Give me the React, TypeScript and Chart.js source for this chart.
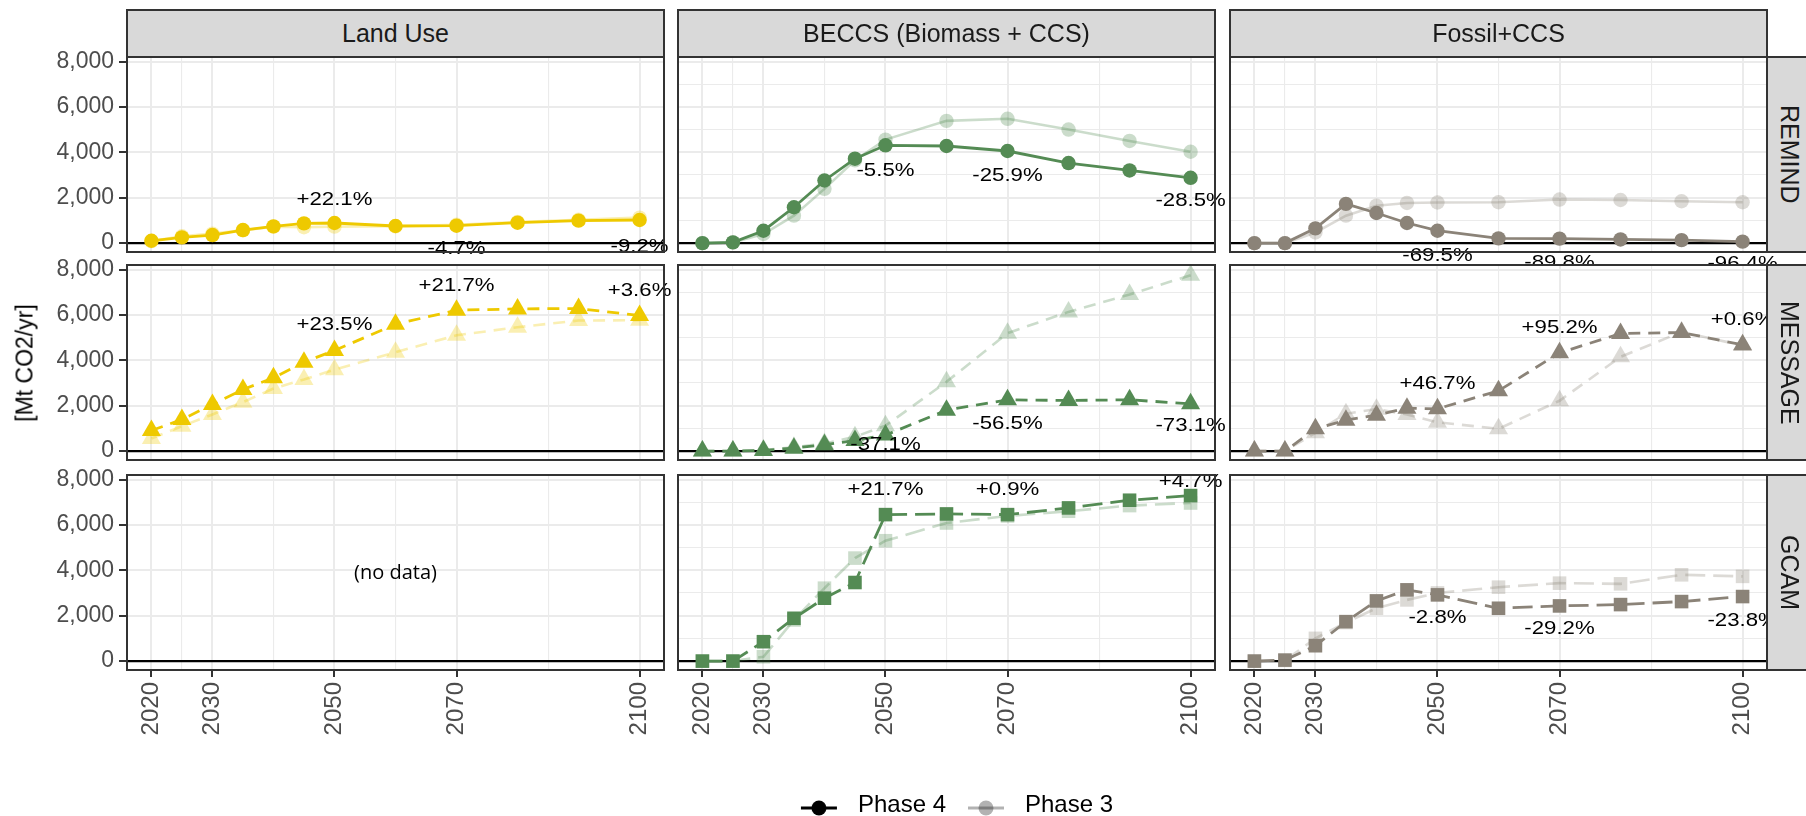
import React, { useEffect, useRef } from 'react';
import { Chart, registerables } from 'chart.js';

Chart.register(...registerables);

// ---------------- data ----------------
const YEARS = [2020, 2025, 2030, 2035, 2040, 2045, 2050, 2060, 2070, 2080, 2090, 2100];
const CATEGORIES = ['Land Use', 'BECCS (Biomass + CCS)', 'Fossil+CCS'];
const MODELS = ['REMIND', 'MESSAGE', 'GCAM'];
const PHASES = ['Phase 4', 'Phase 3'];
const X_MAJOR_TICKS = [2020, 2030, 2050, 2070, 2100];
const X_MINOR_TICKS = [2025, 2040, 2060, 2085];
const Y_MAJOR_TICKS = [0, 2000, 4000, 6000, 8000];
const Y_MINOR_TICKS = [1000, 3000, 5000, 7000];

// REMIND
const LAND_REMIND_P4 = [103, 251, 354, 576, 738, 871, 886, 753, 768, 900, 989, 1018];
const LAND_REMIND_P3 = [90, 300, 420, 560, 720, 700, 726, 740, 806, 930, 1030, 1121];
const BECCS_REMIND_P4 = [0, 30, 546, 1579, 2760, 3720, 4310, 4280, 4059, 3528, 3203, 2878];
const BECCS_REMIND_P3 = [0, 30, 400, 1210, 2391, 3646, 4561, 5387, 5478, 5004, 4502, 4025];
const FOSSIL_REMIND_P4 = [0, 0, 650, 1727, 1328, 886, 546, 210, 196, 162, 133, 65];
const FOSSIL_REMIND_P3 = [0, 0, 470, 1210, 1650, 1770, 1790, 1800, 1920, 1900, 1845, 1800];

// MESSAGE
const LAND_MESSAGE_P4 = [906, 1395, 2055, 2716, 3230, 3920, 4433, 5593, 6210, 6268, 6283, 5975];
const LAND_MESSAGE_P3 = [558, 1100, 1615, 2158, 2760, 3156, 3590, 4360, 5103, 5461, 5755, 5767];
const BECCS_MESSAGE_P4 = [0, 0, 30, 130, 279, 470, 705, 1806, 2261, 2231, 2261, 2085];
const BECCS_MESSAGE_P3 = [0, 0, 50, 170, 338, 631, 1121, 3053, 5198, 6136, 6900, 7751];
const FOSSIL_MESSAGE_P4 = [0, 0, 983, 1365, 1585, 1894, 1864, 2657, 4331, 5182, 5226, 4683];
const FOSSIL_MESSAGE_P3 = [0, 0, 807, 1650, 1850, 1615, 1271, 983, 2219, 4154, 5250, 4655];

// GCAM
const BECCS_GCAM_P4 = [0, 0, 855, 1887, 2771, 3464, 6456, 6486, 6456, 6751, 7090, 7296];
const BECCS_GCAM_P3 = [0, 0, 192, 1813, 3213, 4540, 5305, 6088, 6398, 6604, 6854, 6968];
const FOSSIL_GCAM_P4 = [0, 44, 678, 1739, 2653, 3140, 2919, 2329, 2432, 2491, 2624, 2845];
const FOSSIL_GCAM_P3 = [0, 30, 1002, 1700, 2329, 2697, 3003, 3258, 3435, 3405, 3803, 3734];

// change labels (Phase 4 vs Phase 3) and their label heights
const NOTE_YEARS = [2050, 2070, 2100];
const LAND_REMIND_NOTES = ['+22.1%', '-4.7%', '-9.2%'];
const LAND_REMIND_NOTE_Y = [1919, -266, -148];
const BECCS_REMIND_NOTES = ['-5.5%', '-25.9%', '-28.5%'];
const BECCS_REMIND_NOTE_Y = [3203, 2982, 1860];
const FOSSIL_REMIND_NOTES = ['-69.5%', '-89.8%', '-96.4%'];
const FOSSIL_REMIND_NOTE_Y = [-561, -856, -900];
const LAND_MESSAGE_NOTES = ['+23.5%', '+21.7%', '+3.6%'];
const LAND_MESSAGE_NOTE_Y = [5549, 7267, 7076];
const BECCS_MESSAGE_NOTES = ['-37.1%', '-56.5%', '-73.1%'];
const BECCS_MESSAGE_NOTE_Y = [279, 1218, 1101];
const FOSSIL_MESSAGE_NOTES = ['+46.7%', '+95.2%', '+0.6%'];
const FOSSIL_MESSAGE_NOTE_Y = [2980, 5432, 5799];
const BECCS_GCAM_NOTES = ['+21.7%', '+0.9%', '+4.7%'];
const BECCS_GCAM_NOTE_Y = [7562, 7562, 7886];
const FOSSIL_GCAM_NOTES = ['-2.8%', '-29.2%', '-23.8%'];
const FOSSIL_GCAM_NOTE_Y = [1887, 1400, 1784];
const NO_DATA_TEXT = '(no data)';
const NO_DATA_X = 2060;
const NO_DATA_Y = 3850;

const PHASE4: (number[] | null)[][] = [
  [LAND_REMIND_P4, BECCS_REMIND_P4, FOSSIL_REMIND_P4],
  [LAND_MESSAGE_P4, BECCS_MESSAGE_P4, FOSSIL_MESSAGE_P4],
  [null, BECCS_GCAM_P4, FOSSIL_GCAM_P4],
];
const PHASE3: (number[] | null)[][] = [
  [LAND_REMIND_P3, BECCS_REMIND_P3, FOSSIL_REMIND_P3],
  [LAND_MESSAGE_P3, BECCS_MESSAGE_P3, FOSSIL_MESSAGE_P3],
  [null, BECCS_GCAM_P3, FOSSIL_GCAM_P3],
];
const NOTES: ([string[], number[]] | null)[][] = [
  [[LAND_REMIND_NOTES, LAND_REMIND_NOTE_Y], [BECCS_REMIND_NOTES, BECCS_REMIND_NOTE_Y], [FOSSIL_REMIND_NOTES, FOSSIL_REMIND_NOTE_Y]],
  [[LAND_MESSAGE_NOTES, LAND_MESSAGE_NOTE_Y], [BECCS_MESSAGE_NOTES, BECCS_MESSAGE_NOTE_Y], [FOSSIL_MESSAGE_NOTES, FOSSIL_MESSAGE_NOTE_Y]],
  [null, [BECCS_GCAM_NOTES, BECCS_GCAM_NOTE_Y], [FOSSIL_GCAM_NOTES, FOSSIL_GCAM_NOTE_Y]],
];

// ---------------- styles ----------------
const FONT = "'Liberation Sans', Arial, Helvetica, sans-serif";
const CAT_COLORS = ['#EEC900', '#548B54', '#8B8378'];
const MODEL_POINT = ['circle', 'triangle', 'rect'];
const MODEL_RADIUS = [7.2, 11, 9.6];
const MODEL_DASH = [[], [12, 8], [20, 8]];
const PHASE_ALPHA = [1, 0.3];
const PHASE_WIDTH = [2.8, 2.6];

const COL_LEFT = [127, 678, 1230];
const ROW_TOP = [57, 265, 475];
const PANEL_W = 537;
const PANEL_H = 195;
const X_MIN = 2016;
const X_MAX = 2104;
const Y_MIN = -392;
const Y_MAX = 8202;

function rgba(hex: string, a: number) {
  const n = parseInt(hex.slice(1), 16);
  return `rgba(${(n >> 16) & 255},${(n >> 8) & 255},${n & 255},${a})`;
}

function makeSeries(values: number[], row: number, col: number, phase: number) {
  const c = rgba(CAT_COLORS[col], PHASE_ALPHA[phase]);
  return {
    label: PHASES[phase],
    data: YEARS.map((yr, i) => ({ x: yr, y: values[i] })),
    borderColor: c,
    backgroundColor: c,
    pointBackgroundColor: c,
    pointBorderWidth: 0,
    pointRadius: MODEL_RADIUS[row],
    pointStyle: MODEL_POINT[row],
    borderWidth: PHASE_WIDTH[phase],
    borderDash: MODEL_DASH[row],
    tension: 0,
    fill: false,
  };
}

const panelPlugin = {
  id: 'panel',
  beforeDraw(chart: any) {
    const { ctx, chartArea: a } = chart;
    ctx.save();
    ctx.fillStyle = '#FFFFFF';
    ctx.fillRect(a.left, a.top, a.right - a.left, a.bottom - a.top);
    ctx.restore();
  },
  beforeDatasetsDraw(chart: any) {
    const { ctx, chartArea: a, scales } = chart;
    const y0 = scales.y.getPixelForValue(0);
    ctx.save();
    ctx.strokeStyle = '#000000';
    ctx.lineWidth = 2.2;
    ctx.beginPath();
    ctx.moveTo(a.left, y0);
    ctx.lineTo(a.right, y0);
    ctx.stroke();
    ctx.restore();
  },
  afterDatasetsDraw(chart: any, _args: any, opts: any) {
    const { ctx, chartArea: a, scales } = chart;
    ctx.save();
    ctx.textAlign = 'center';
    ctx.textBaseline = 'middle';
    ctx.fillStyle = '#000000';
    (opts.notes || []).forEach((n: any) => {
      ctx.save();
      ctx.font = n.font;
      ctx.translate(scales.x.getPixelForValue(n.x), scales.y.getPixelForValue(n.y));
      ctx.scale(n.sx, 1);
      ctx.fillText(n.text, 0, 0);
      ctx.restore();
    });
    ctx.strokeStyle = '#333333';
    ctx.lineWidth = 2;
    ctx.strokeRect(a.left, a.top, a.right - a.left, a.bottom - a.top);
    ctx.restore();
  },
};

function Panel({ row, col }: { row: number; col: number }) {
  const ref = useRef<HTMLCanvasElement>(null);
  const mL = col === 0 ? COL_LEFT[0] : 60;
  const mR = 60;
  const mT = 40;
  const mB = row === 2 ? 110 : 40;
  const w = PANEL_W + mL + mR;
  const h = PANEL_H + mT + mB;

  useEffect(() => {
    const canvas = ref.current;
    if (!canvas) return;
    const datasets: any[] = [];
    const p4 = PHASE4[row][col];
    const p3 = PHASE3[row][col];
    if (p4) datasets.push(makeSeries(p4, row, col, 0));
    if (p3) datasets.push(makeSeries(p3, row, col, 1));
    const noteSrc = NOTES[row][col];
    const notes = noteSrc
      ? NOTE_YEARS.map((yr, i) => ({ x: yr, y: noteSrc[1][i], text: noteSrc[0][i], font: `18.5px ${FONT}`, sx: 1.2 }))
      : [{ x: NO_DATA_X, y: NO_DATA_Y, text: NO_DATA_TEXT, font: `20px 'Open Sans', 'Noto Sans', sans-serif`, sx: 1 }];
    const xTicks = [...X_MAJOR_TICKS, ...X_MINOR_TICKS].sort((a, b) => a - b);
    const yTicks = [...Y_MAJOR_TICKS, ...Y_MINOR_TICKS].sort((a, b) => a - b);
    const chart = new Chart(canvas, {
      type: 'line',
      data: { datasets },
      options: {
        responsive: false,
        animation: false,
        events: [],
        layout: {
          autoPadding: false,
          padding: { left: col === 0 ? 0 : mL, right: mR, top: mT, bottom: row === 2 ? 0 : mB },
        },
        plugins: {
          legend: { display: false },
          tooltip: { enabled: false },
          panel: { notes },
        } as any,
        scales: {
          x: {
            type: 'linear',
            min: X_MIN,
            max: X_MAX,
            afterBuildTicks: (s: any) => {
              s.ticks = xTicks.map((v) => ({ value: v }));
            },
            afterFit: (s: any) => {
              s.height = row === 2 ? mB : 0;
            },
            border: { display: false },
            grid: {
              color: '#EBEBEB',
              lineWidth: (c: any) => (X_MAJOR_TICKS.includes(c.tick?.value) ? 2 : 1.1),
              drawTicks: row === 2,
              tickLength: 7,
              tickWidth: 2,
              tickColor: (c: any) => (X_MAJOR_TICKS.includes(c.tick?.value) ? '#333333' : 'rgba(0,0,0,0)'),
            },
            ticks: {
              display: row === 2,
              autoSkip: false,
              minRotation: 90,
              maxRotation: 90,
              padding: 5,
              color: '#4D4D4D',
              font: { family: FONT, size: 24 },
              callback: (v: any) => (X_MAJOR_TICKS.includes(v) ? String(v) : ''),
            },
          },
          y: {
            type: 'linear',
            min: Y_MIN,
            max: Y_MAX,
            afterBuildTicks: (s: any) => {
              s.ticks = yTicks.map((v) => ({ value: v }));
            },
            afterFit: (s: any) => {
              s.width = col === 0 ? mL : 0;
            },
            border: { display: false },
            grid: {
              color: '#EBEBEB',
              lineWidth: (c: any) => (Y_MAJOR_TICKS.includes(c.tick?.value) ? 2 : 1.1),
              drawTicks: col === 0,
              tickLength: 8,
              tickWidth: 2,
              tickColor: (c: any) => (Y_MAJOR_TICKS.includes(c.tick?.value) ? '#333333' : 'rgba(0,0,0,0)'),
            },
            ticks: {
              display: col === 0,
              padding: 5,
              color: '#4D4D4D',
              font: { family: FONT, size: 23 },
              callback: (v: any) => (Y_MAJOR_TICKS.includes(v) ? Number(v).toLocaleString('en-US') : ''),
            },
          },
        },
      } as any,
      plugins: [panelPlugin as any],
    });
    return () => chart.destroy();
  }, [row, col]);

  return (
    <canvas
      ref={ref}
      width={w}
      height={h}
      style={{ position: 'absolute', left: COL_LEFT[col] - mL, top: ROW_TOP[row] - mT, width: w, height: h }}
    />
  );
}

function makeKey(alpha: number) {
  const c = document.createElement('canvas');
  c.width = 54;
  c.height = 26;
  const g = c.getContext('2d')!;
  const col = `rgba(0,0,0,${alpha})`;
  const cy = 16;
  g.strokeStyle = col;
  g.lineWidth = 2.8;
  g.beginPath();
  g.moveTo(9, cy);
  g.lineTo(45, cy);
  g.stroke();
  g.fillStyle = col;
  g.beginPath();
  g.arc(27, cy, 7.5, 0, Math.PI * 2);
  g.fill();
  return c;
}

function Legend() {
  const ref = useRef<HTMLCanvasElement>(null);
  const left = 99;
  const top = 780;
  const w = 1806 - left;
  const h = 200;
  useEffect(() => {
    const canvas = ref.current;
    if (!canvas) return;
    const keys = [makeKey(PHASE_ALPHA[0]), makeKey(PHASE_ALPHA[1])];
    const chart = new Chart(canvas, {
      type: 'line',
      data: {
        datasets: PHASES.map((p) => ({ label: p, data: [] as any[] })),
      },
      options: {
        responsive: false,
        animation: false,
        events: [],
        layout: { autoPadding: false, padding: 0 },
        scales: { x: { display: false }, y: { display: false } },
        plugins: {
          tooltip: { enabled: false },
          legend: {
            display: true,
            position: 'top',
            labels: {
              usePointStyle: true,
              pointStyleWidth: 54,
              padding: 13,
              color: '#000000',
              font: { family: FONT, size: 24 },
              generateLabels: () =>
                PHASES.map((p, i) => ({
                  text: p,
                  pointStyle: keys[i],
                  fillStyle: 'rgba(0,0,0,0)',
                  strokeStyle: 'rgba(0,0,0,0)',
                  lineWidth: 0,
                  hidden: false,
                  datasetIndex: i,
                  fontColor: '#000000',
                })),
            },
          },
        },
      } as any,
    });
    return () => chart.destroy();
  }, []);
  return (
    <canvas ref={ref} width={w} height={h} style={{ position: 'absolute', left, top, width: w, height: h }} />
  );
}

export default function App() {
  const panels: JSX.Element[] = [];
  for (let r = 0; r < 3; r++) for (let c = 0; c < 3; c++) panels.push(<Panel key={`${r}-${c}`} row={r} col={c} />);
  return (
    <div
      style={{
        position: 'absolute',
        left: 0,
        top: 0,
        width: 1806,
        height: 816,
        overflow: 'hidden',
        background: '#FFFFFF',
      }}
    >
      {panels}
      {CATEGORIES.map((c, i) => (
        <div
          key={c}
          style={{
            position: 'absolute',
            left: COL_LEFT[i] - 1,
            top: 9,
            width: PANEL_W + 2,
            height: ROW_TOP[0] - 9 + 1,
            boxSizing: 'border-box',
            background: '#D9D9D9',
            border: '2px solid #333333',
            display: 'flex',
            alignItems: 'center',
            justifyContent: 'center',
            font: `25px ${FONT}`,
            color: '#1A1A1A',
          }}
        >
          {c}
        </div>
      ))}
      {MODELS.map((m, i) => (
        <div
          key={m}
          style={{
            position: 'absolute',
            left: COL_LEFT[2] + PANEL_W - 1,
            top: ROW_TOP[i] - 1,
            width: 44,
            height: PANEL_H + 2,
            boxSizing: 'border-box',
            background: '#D9D9D9',
            borderLeft: '2px solid #333333',
            borderTop: '2px solid #333333',
            borderBottom: '2px solid #333333',
            display: 'flex',
            alignItems: 'center',
            justifyContent: 'center',
            font: `25px ${FONT}`,
            color: '#1A1A1A',
            writingMode: 'vertical-rl',
          }}
        >
          {m}
        </div>
      ))}
      <div
        style={{
          position: 'absolute',
          left: 25,
          top: 363,
          transform: 'translate(-50%, -50%) rotate(-90deg)',
          font: `23px ${FONT}`,
          color: '#000000',
          whiteSpace: 'nowrap',
        }}
      >
        [Mt CO2/yr]
      </div>
      <Legend />
    </div>
  );
}
